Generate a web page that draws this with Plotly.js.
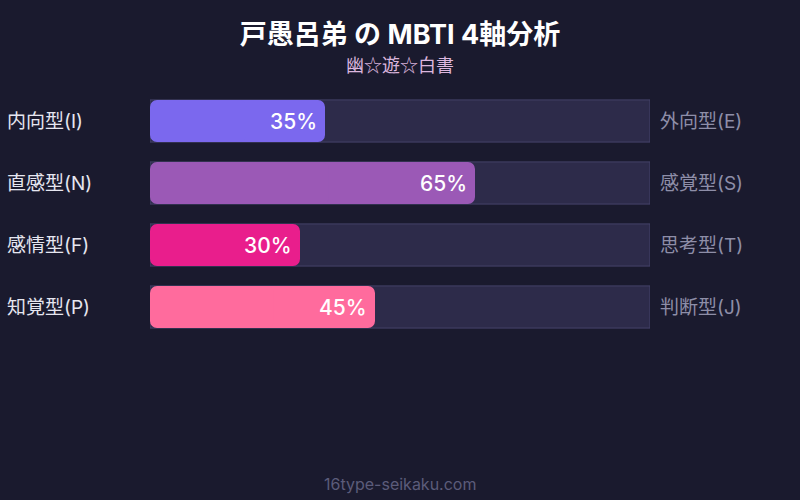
<!DOCTYPE html>
<html><head><meta charset="utf-8">
<script src="https://cdn.plot.ly/plotly-3.0.1.min.js"></script>
<style>html,body{margin:0;padding:0;background:#1a1a2e;}#chart{width:800px;height:500px;}</style>
</head><body><div id="chart"></div>
<script>
const axes = ["IE", "NS", "FT", "PJ"];
const leftLabels = ["内向型(I)", "直感型(N)", "感情型(F)", "知覚型(P)"];
const rightLabels = ["外向型(E)", "感覚型(S)", "思考型(T)", "判断型(J)"];
const values = [35, 65, 30, 45];
const barColors = ["#7b68ee", "#9b59b6", "#e91e8c", "#ff6b9d"];
const fullScale = [100, 100, 100, 100];
const titleText = "戸愚呂弟 の MBTI 4軸分析";
const subtitleText = "幽☆遊☆白書";
const footerText = "16type-seikaku.com";

const FONT = "Inter, 'Noto Sans CJK JP', 'Noto Sans', sans-serif";
const CJK = "'Noto Sans CJK JP', Inter, sans-serif";
const BW = 0.68, R = 7;

// background track (full scale)
const track = {
  type: "bar", orientation: "h", x: fullScale, y: axes, yaxis: "y",
  width: BW,
  marker: {color: "#2d2b4a", line: {color: "#45436a", width: 1}},
  hoverinfo: "skip", showlegend: false
};
// value bar, drawn as two overlapping halves so both ends get rounded corners
const barRight = {
  type: "bar", orientation: "h", y: axes, yaxis: "y2",
  base: values.map(v => v * 0.45), x: values.map(v => v * 0.55),
  width: BW,
  marker: {color: barColors, cornerradius: R},
  textposition: "none", hoverinfo: "skip", showlegend: false
};
const barLeft = {
  type: "bar", orientation: "h", y: axes, yaxis: "y3",
  base: values.map(v => v * 0.55), x: values.map(v => -v * 0.55),
  width: BW,
  marker: {color: barColors, cornerradius: R},
  textposition: "none", hoverinfo: "skip", showlegend: false
};

const annotations = [];
axes.forEach((a, i) => {
  annotations.push({xref: "paper", yref: "y", x: -0.29, y: a, xanchor: "left", yanchor: "middle",
    text: leftLabels[i], showarrow: false, font: {family: FONT, size: 19, color: "#e6e6f0"}});
  annotations.push({xref: "paper", yref: "y", x: 1.016, y: a, xanchor: "left", yanchor: "middle",
    text: rightLabels[i], showarrow: false, font: {family: FONT, size: 19, color: "#8e8ea8"}});
  annotations.push({xref: "x", yref: "y", x: values[i], y: a, xanchor: "right", yanchor: "middle", xshift: -6,
    text: values[i] + "%", showarrow: false, font: {family: FONT, size: 21, color: "#ffffff", weight: 500}});
});
annotations.push({xref: "paper", yref: "paper", x: 0.5, y: 1 + (90 - 64) / 248, xanchor: "center", yanchor: "middle",
  text: subtitleText, showarrow: false, font: {family: CJK, size: 18, color: "#dcb6de"}});
annotations.push({xref: "paper", yref: "paper", x: 0.5, y: -(484 - 338) / 248, xanchor: "center", yanchor: "middle",
  text: footerText, showarrow: false, font: {family: FONT, size: 16, color: "#5c5c7a"}});

const yax = {autorange: false, range: [3.5, -0.5], visible: false, fixedrange: true, type: "category",
  categoryorder: "array", categoryarray: axes};
const layout = {
  width: 800, height: 500,
  paper_bgcolor: "#1a1a2e", plot_bgcolor: "#1a1a2e",
  margin: {l: 150, r: 150, t: 90, b: 162},
  barmode: "overlay",
  title: {text: "<b>" + titleText + "</b>", x: 0.5, xanchor: "center", y: 1 - 35 / 500, yanchor: "middle",
    font: {family: FONT, size: 27, color: "#ffffff"}},
  xaxis: {range: [0, 100], visible: false, fixedrange: true},
  yaxis: Object.assign({}, yax),
  yaxis2: Object.assign({overlaying: "y"}, yax),
  yaxis3: Object.assign({overlaying: "y"}, yax),
  annotations: annotations,
  showlegend: false
};
Plotly.newPlot("chart", [track, barRight, barLeft], layout, {displayModeBar: false, staticPlot: true});
</script></body></html>
